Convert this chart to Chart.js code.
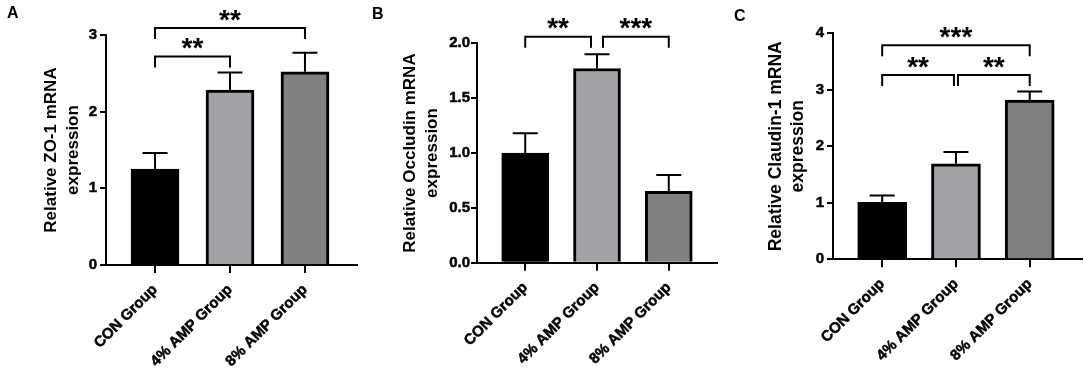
<!DOCTYPE html>
<html lang="en">
<head>
<meta charset="UTF-8">
<title>Relative tight junction mRNA expression</title>
<script src="https://cdn.jsdelivr.net/npm/chart.js"></script>
<style>
  body { margin: 0; background: #fff; font-family: "Liberation Sans", Arial, sans-serif; }
  #wrap { position: relative; width: 1084px; height: 371px; overflow: hidden; }
  canvas { position: absolute; top: 0; }
  .tag { position: absolute; font-weight: bold; font-size: 16px; line-height: 16px; color: #000; }
</style>
</head>
<body>
<div id="wrap">
  <canvas id="chartA"></canvas>
  <canvas id="chartB"></canvas>
  <canvas id="chartC"></canvas>
  <div class="tag" style="left:7px;top:5px">A</div>
  <div class="tag" style="left:372px;top:6px">B</div>
  <div class="tag" style="left:734px;top:8px">C</div>
</div>
<script>
  const groups = ['CON Group', '4% AMP Group', '8% AMP Group'];
  const barColors = ['#000000', '#a2a2a7', '#808080'];

  // A - ZO-1
  const zo1Mean = [1.25, 2.28, 2.52];
  const zo1Sem = [0.21, 0.23, 0.25];
  const zo1Ticks = [0, 1, 2, 3];
  const zo1Sig = [
    { from: 0, to: 1, y: 2.72, label: '**' },
    { from: 0, to: 2, y: 3.09, label: '**' }
  ];

  // B - Occludin
  const occMean = [1.00, 1.77, 0.65];
  const occSem = [0.18, 0.13, 0.15];
  const occTicks = [0, 0.5, 1.0, 1.5, 2.0];
  const occSig = [
    { from: 0, to: 1, y: 2.06, label: '**' },
    { from: 1, to: 2, y: 2.06, label: '***' }
  ];

  // C - Claudin-1
  const clauMean = [1.01, 1.69, 2.82];
  const clauSem = [0.12, 0.21, 0.15];
  const clauTicks = [0, 1, 2, 3, 4];
  const clauSig = [
    { from: 0, to: 1, y: 3.26, label: '**' },
    { from: 1, to: 2, y: 3.26, label: '**' },
    { from: 0, to: 2, y: 3.79, label: '***' }
  ];

  Chart.defaults.font.family = '"Liberation Sans", Arial, sans-serif';
  Chart.defaults.color = '#000';

  function makePanel(id, p) {
    const cv = document.getElementById(id);
    cv.width = p.width;
    cv.height = 371;
    cv.style.left = p.left + 'px';
    cv.style.width = p.width + 'px';
    cv.style.height = '371px';
    const axisX = p.axisX - p.left;
    const rightPad = p.width - (p.axisEnd - p.left);

    // mean + SEM, upper half only
    const errorBars = {
      id: 'errorBars',
      afterDatasetsDraw(chart) {
        const { ctx, scales: { y } } = chart;
        const meta = chart.getDatasetMeta(0);
        ctx.save();
        ctx.strokeStyle = '#000';
        ctx.lineWidth = 2;
        meta.data.forEach((bar, i) => {
          const yBar = y.getPixelForValue(p.mean[i]);
          const yTop = y.getPixelForValue(p.mean[i] + p.err[i]);
          ctx.beginPath();
          ctx.moveTo(bar.x, yBar);
          ctx.lineTo(bar.x, yTop);
          ctx.moveTo(bar.x - 12.5, yTop);
          ctx.lineTo(bar.x + 12.5, yTop);
          ctx.stroke();
        });
        ctx.restore();
      }
    };

    // significance brackets with asterisks
    const brackets = {
      id: 'brackets',
      afterDraw(chart) {
        const { ctx, scales: { x, y } } = chart;
        ctx.save();
        ctx.strokeStyle = '#000';
        ctx.fillStyle = '#000';
        ctx.lineWidth = 2;
        ctx.lineJoin = 'miter';
        p.sig.forEach(b => {
          const shareL = p.sig.some(o => o !== b && o.to === b.from);
          const shareR = p.sig.some(o => o !== b && o.from === b.to);
          const x1 = x.getPixelForValue(b.from + 1) + (shareL ? p.gap : 0);
          const x2 = x.getPixelForValue(b.to + 1) - (shareR ? p.gap : 0);
          const yy = y.getPixelForValue(b.y);
          ctx.beginPath();
          ctx.moveTo(x1, yy + 11);
          ctx.lineTo(x1, yy);
          ctx.lineTo(x2, yy);
          ctx.lineTo(x2, yy + 11);
          ctx.stroke();
          ctx.font = 'bold 28px "Liberation Sans"';
          ctx.textAlign = 'center';
          ctx.textBaseline = 'alphabetic';
          const m = ctx.measureText(b.label);
          const cy = yy - 13;
          ctx.fillText(b.label, (x1 + x2) / 2, cy + (m.actualBoundingBoxAscent - m.actualBoundingBoxDescent) / 2);
        });
        ctx.restore();
      }
    };

    return new Chart(cv, {
      type: 'bar',
      data: {
        datasets: [{
          data: groups.map((g, i) => ({ x: i + 1, y: p.mean[i] })),
          backgroundColor: barColors,
          borderColor: '#000',
          borderWidth: 3,
          borderSkipped: 'start',
          barThickness: p.barW
        }]
      },
      options: {
        responsive: false,
        maintainAspectRatio: false,
        devicePixelRatio: 1,
        animation: false,
        layout: { padding: { top: p.top, right: rightPad, left: 0, bottom: 0 } },
        plugins: { legend: { display: false }, tooltip: { enabled: false } },
        scales: {
          x: {
            type: 'linear',
            min: p.xMin,
            max: p.xMax,
            offset: false,
            z: 1,
            afterBuildTicks: s => { s.ticks = groups.map((g, i) => ({ value: i + 1 })); },
            afterFit: s => { s.height = 371 - p.bottom; },
            ticks: {
              callback: (v, i) => groups[i],
              autoSkip: false,
              minRotation: 45,
              maxRotation: 45,
              padding: 8,
              color: '#000',
              textStrokeColor: '#000',
              textStrokeWidth: 0.5,
              font: { size: 15, weight: 'bold' }
            },
            grid: { display: true, offset: false, drawOnChartArea: false, drawTicks: true, tickLength: 8, color: '#000', lineWidth: 2 },
            border: { display: true, color: '#000', width: 2 }
          },
          y: {
            type: 'linear',
            min: 0,
            max: p.yTicks[p.yTicks.length - 1],
            afterBuildTicks: s => { s.ticks = p.yTicks.map(v => ({ value: v })); },
            afterFit: s => { s.width = axisX; },
            ticks: {
              callback: v => v.toFixed(p.dec),
              padding: p.tickPad,
              color: '#000',
              textStrokeColor: '#000',
              textStrokeWidth: 0.5,
              font: { size: 15, weight: 'bold' }
            },
            grid: { display: true, drawOnChartArea: false, drawTicks: true, tickLength: 6, color: '#000', lineWidth: 2 },
            border: { display: true, color: '#000', width: 2 },
            title: {
              display: true,
              text: p.title,
              color: '#000',
              font: { size: p.titleSize, weight: 'bold', lineHeight: '22px' },
              padding: { top: p.titleX - 11, bottom: 0 }
            }
          }
        }
      },
      plugins: [errorBars, brackets]
    });
  }

  makePanel('chartA', {
    left: 0, width: 360, axisX: 106, axisEnd: 357, top: 35, bottom: 265,
    xMin: 0.346, xMax: 3.694, barW: 48, titleX: 51, titleSize: 17, tickPad: 3, gap: 0, dec: 0,
    mean: zo1Mean, err: zo1Sem, yTicks: zo1Ticks, sig: zo1Sig,
    title: ['Relative ZO-1 mRNA', 'expression']
  });

  makePanel('chartB', {
    left: 360, width: 360, axisX: 477, axisEnd: 717, top: 43.3, bottom: 262.7,
    xMin: 0.328, xMax: 3.672, barW: 47, titleX: 50, titleSize: 17, tickPad: 1, gap: 6, dec: 1,
    mean: occMean, err: occSem, yTicks: occTicks, sig: occSig,
    title: ['Relative Occludin mRNA', 'expression']
  });

  makePanel('chartC', {
    left: 720, width: 364, axisX: 833, axisEnd: 1082, top: 33.3, bottom: 259.3,
    xMin: 0.333, xMax: 3.709, barW: 49, titleX: 56, titleSize: 17.5, tickPad: 3, gap: 2, dec: 0,
    mean: clauMean, err: clauSem, yTicks: clauTicks, sig: clauSig,
    title: ['Relative Claudin-1 mRNA', 'expression']
  });
</script>
</body>
</html>
